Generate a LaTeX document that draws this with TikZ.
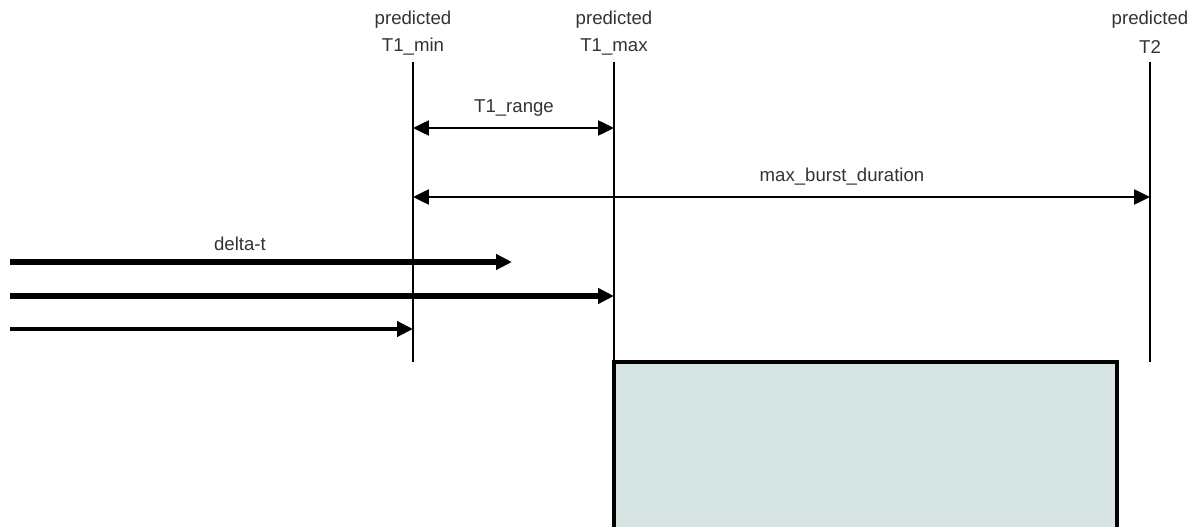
\documentclass[tikz,border=0pt]{standalone}
\usepackage{fontspec}
\setmainfont{Liberation Sans}
\usetikzlibrary{arrows.meta}
\definecolor{burstfill}{HTML}{D6E4E4}

\begin{document}
\begin{tikzpicture}[>={Triangle[length=9pt,width=8.5pt]},x=0.02cm,y=-0.02cm]
                        \tikzstyle{every node} = [inner sep=0pt,text=black!80,font=\fontsize{10.6}{12}\selectfont];
                        \tikzstyle{marker} = [line width=0.6pt];
                        \tikzstyle{span} = [<->,line width=1.2pt];
                        \tikzstyle{delta} = [->,line width=3pt];
                        \useasboundingbox (0,0) rectangle (1194,527);
                        % predicted times
                        \node (pminA) at (413,20) {predicted};
                        \node (pmin) at (413,47) {T1\_min};
                        \node (pmaxA) at (614,20) {predicted};
                        \node (pmax) at (614,47) {T1\_max};
                        \node (ptwoA) at (1150,20) {predicted};
                        \node (ptwo) at (1150,47) {T2};
                        \coordinate (mintop) at (413,62);
                        \coordinate (maxtop) at (614,62);
                        \coordinate (twotop) at (1150,62);
                        \coordinate (minlow) at (413,362);
                        \coordinate (maxlow) at (614,362);
                        \coordinate (twolow) at (1150,362);
                        \draw[marker] (mintop) -- (minlow);
                        \draw[marker] (maxtop) -- (maxlow);
                        \draw[marker] (twotop) -- (twolow);
                        % ranges
                        \coordinate (rangeL) at (413,128);
                        \coordinate (rangeR) at (614,128);
                        \draw[span] (rangeL) -- (rangeR);
                        \node (range) at (514,108) {T1\_range};
                        \coordinate (burstL) at (413,197);
                        \coordinate (burstR) at (1150,197);
                        \draw[span] (burstL) -- (burstR);
                        \node (burst) at (842,177) {max\_burst\_duration};
                        % delta-t
                        \node (dt) at (240,244) {delta-t};
                        \coordinate (dtA) at (10,262);
                        \coordinate (dtAe) at (512,262);
                        \coordinate (dtB) at (10,296);
                        \coordinate (dtBe) at (614,296);
                        \coordinate (dtC) at (10,329);
                        \coordinate (dtCe) at (413,329);
                        \draw[delta] (dtA) -- (dtAe);
                        \draw[delta] (dtB) -- (dtBe);
                        \draw[->,line width=2.2pt] (dtC) -- (dtCe);
                        % burst box
                        \fill[burstfill] (614,362) rectangle (1117,540);
                        \draw[line width=2.4pt] (614,540) -- (614,362) -- (1117,362) -- (1117,540);
                    \end{tikzpicture}
\end{document}
